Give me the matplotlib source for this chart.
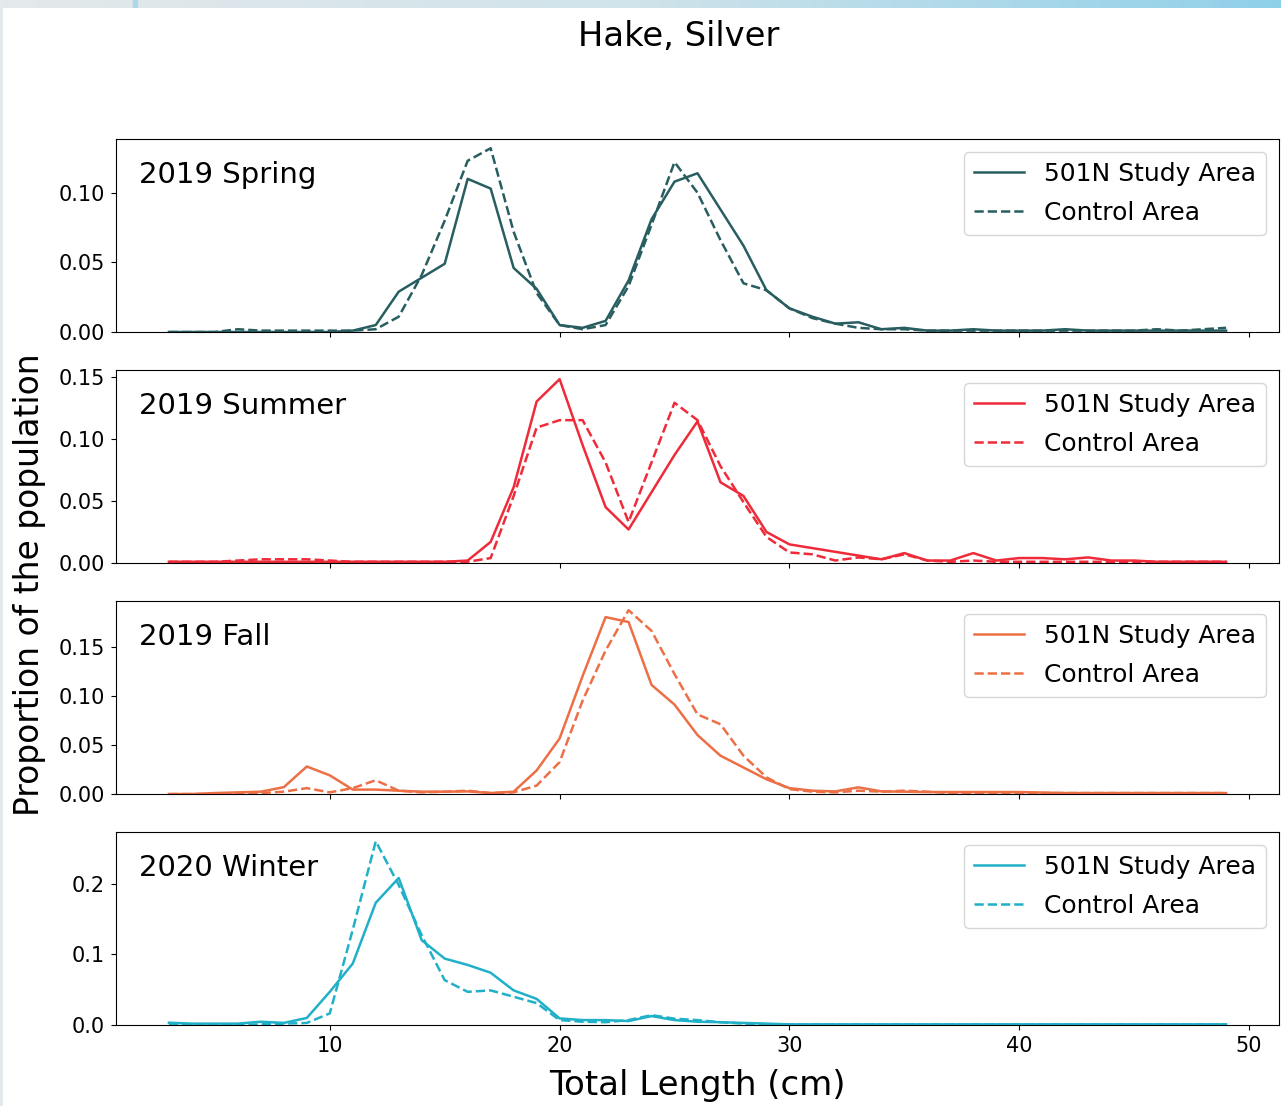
import numpy as np
import matplotlib
matplotlib.use("Agg")
import matplotlib.pyplot as plt

# Length bins (cm)
lengths = list(range(3, 50))

seasons = ["2019 Spring", "2019 Summer", "2019 Fall", "2020 Winter"]
season_colors = ["#285e60", "#ef2b3a", "#ec6f46", "#20b1c9"]
series_labels = ["501N Study Area", "Control Area"]

# Proportion of the population per length bin
spring_study = [0.000, 0.000, 0.000, 0.000, 0.000, 0.000, 0.000, 0.000, 0.001, 0.005,
                0.029, 0.039, 0.049, 0.110, 0.103, 0.046, 0.031, 0.005, 0.003, 0.008,
                0.037, 0.081, 0.108, 0.114, 0.088, 0.062, 0.030, 0.017, 0.011, 0.006,
                0.007, 0.002, 0.003, 0.001, 0.001, 0.002, 0.001, 0.001, 0.001, 0.002,
                0.001, 0.001, 0.001, 0.001, 0.001, 0.001, 0.001]
spring_control = [0.000, 0.000, 0.000, 0.002, 0.001, 0.001, 0.001, 0.001, 0.001, 0.002,
                  0.011, 0.041, 0.080, 0.123, 0.132, 0.072, 0.028, 0.005, 0.002, 0.005,
                  0.033, 0.077, 0.122, 0.100, 0.066, 0.035, 0.030, 0.017, 0.010, 0.006,
                  0.003, 0.002, 0.002, 0.001, 0.001, 0.001, 0.001, 0.001, 0.001, 0.001,
                  0.001, 0.001, 0.001, 0.002, 0.001, 0.002, 0.003]

summer_study = [0.001, 0.001, 0.001, 0.001, 0.001, 0.001, 0.001, 0.001, 0.001, 0.001,
                0.001, 0.001, 0.001, 0.002, 0.017, 0.061, 0.130, 0.148, 0.095, 0.045,
                0.027, 0.057, 0.087, 0.114, 0.065, 0.054, 0.025, 0.015, 0.012, 0.009,
                0.006, 0.003, 0.008, 0.002, 0.002, 0.008, 0.002, 0.004, 0.004, 0.003,
                0.0045, 0.002, 0.002, 0.001, 0.001, 0.001, 0.001]
summer_control = [0.001, 0.001, 0.001, 0.002, 0.003, 0.003, 0.003, 0.002, 0.001, 0.001,
                  0.001, 0.001, 0.001, 0.001, 0.004, 0.054, 0.109, 0.115, 0.115, 0.081,
                  0.033, 0.081, 0.129, 0.115, 0.078, 0.049, 0.021, 0.0085, 0.007, 0.002,
                  0.0045, 0.003, 0.007, 0.002, 0.001, 0.002, 0.001, 0.001, 0.001, 0.001,
                  0.001, 0.001, 0.001, 0.001, 0.001, 0.001, 0.001]

fall_study = [0.000, 0.000, 0.001, 0.0017, 0.0024, 0.007, 0.028, 0.019, 0.0045, 0.0045,
              0.0034, 0.0024, 0.0024, 0.0027, 0.001, 0.0024, 0.024, 0.0565, 0.120, 0.180,
              0.175, 0.111, 0.091, 0.060, 0.039, 0.027, 0.015, 0.006, 0.0034, 0.0027,
              0.0068, 0.0027, 0.0024, 0.002, 0.002, 0.002, 0.002, 0.002, 0.0015, 0.001,
              0.001, 0.001, 0.001, 0.001, 0.001, 0.001, 0.001]
fall_control = [0.000, 0.000, 0.000, 0.000, 0.001, 0.0024, 0.006, 0.0017, 0.006, 0.014,
                0.0034, 0.0017, 0.0024, 0.0034, 0.001, 0.0017, 0.0086, 0.0325, 0.095, 0.146,
                0.187, 0.166, 0.122, 0.081, 0.071, 0.039, 0.017, 0.005, 0.0024, 0.0017,
                0.0034, 0.0024, 0.0034, 0.0024, 0.001, 0.001, 0.001, 0.001, 0.001, 0.001,
                0.001, 0.001, 0.001, 0.001, 0.001, 0.001, 0.001]

winter_study = [0.0033, 0.002, 0.002, 0.002, 0.0047, 0.003, 0.010, 0.047, 0.087, 0.173,
                0.208, 0.120, 0.094, 0.085, 0.074, 0.049, 0.037, 0.0094, 0.007, 0.007,
                0.0056, 0.0127, 0.007, 0.0047, 0.004, 0.003, 0.002, 0.001, 0.001, 0.001,
                0.001, 0.001, 0.001, 0.001, 0.001, 0.001, 0.001, 0.001, 0.001, 0.001,
                0.001, 0.001, 0.001, 0.001, 0.001, 0.001, 0.001]
winter_control = [0.000, 0.000, 0.000, 0.000, 0.001, 0.002, 0.003, 0.0165, 0.135, 0.260,
                  0.198, 0.127, 0.0635, 0.047, 0.049, 0.040, 0.031, 0.007, 0.0047, 0.004,
                  0.007, 0.014, 0.009, 0.007, 0.004, 0.002, 0.001, 0.001, 0.001, 0.001,
                  0.001, 0.001, 0.001, 0.001, 0.001, 0.001, 0.001, 0.001, 0.001, 0.001,
                  0.001, 0.001, 0.001, 0.001, 0.001, 0.001, 0.001]

study_series = [spring_study, summer_study, fall_study, winter_study]
control_series = [spring_control, summer_control, fall_control, winter_control]

plt.rcParams["font.family"] = "DejaVu Sans"

fig, axes = plt.subplots(4, 1, sharex=True, figsize=(12.81, 11.06), dpi=100)
fig.subplots_adjust(left=0.0906, right=0.9984, top=0.8743, bottom=0.0732, hspace=0.197)

for ax, season, color, study, control in zip(axes, seasons, season_colors,
                                              study_series, control_series):
    ax.plot(lengths, study, color=color, lw=1.8, label=series_labels[0])
    ax.plot(lengths, control, color=color, lw=1.8, ls="--", label=series_labels[1])
    ax.set_ylim(bottom=0)
    ax.tick_params(labelsize=15, pad=4.5)
    ax.text(0.02, 0.77, season, transform=ax.transAxes, fontsize=21,
            va="baseline", ha="left")
    ax.legend(loc="upper right", fontsize=18, labelspacing=0.6, borderpad=0.4)

axes[0].set_yticks([0.00, 0.05, 0.10])
axes[-1].set_xticks([10, 20, 30, 40, 50])
axes[-1].set_xlabel("Total Length (cm)", fontsize=24.5, labelpad=9)

fig.text(0.0234, 0.471, "Proportion of the population", rotation=90,
         fontsize=23.7, ha="center", va="center")
fig.suptitle("Hake, Silver", x=0.53, y=0.967, fontsize=24.3, va="center")

# Window chrome: gradient bar across the top and a thin strip on the left
bar = fig.add_axes([0, 1 - 8 / 1106, 1, 8 / 1106])
grad = np.linspace(0, 1, 256)[None, :]
cmap = matplotlib.colors.LinearSegmentedColormap.from_list(
    "chrome", ["#e4e9eb", "#cfe3ea", "#8fd0e9"])
bar.imshow(grad, aspect="auto", cmap=cmap, extent=[0, 1, 0, 1])
bar.axvspan(133 / 1281, 137 / 1281, color="#acd9e9")
bar.set_xlim(0, 1)
bar.axis("off")
side = fig.add_axes([0, 0, 3 / 1281, 1 - 8 / 1106])
side.set_facecolor("#e3e9ea")
side.set_xticks([])
side.set_yticks([])
for s in side.spines.values():
    s.set_visible(False)

fig.savefig("out.png", dpi=100)
